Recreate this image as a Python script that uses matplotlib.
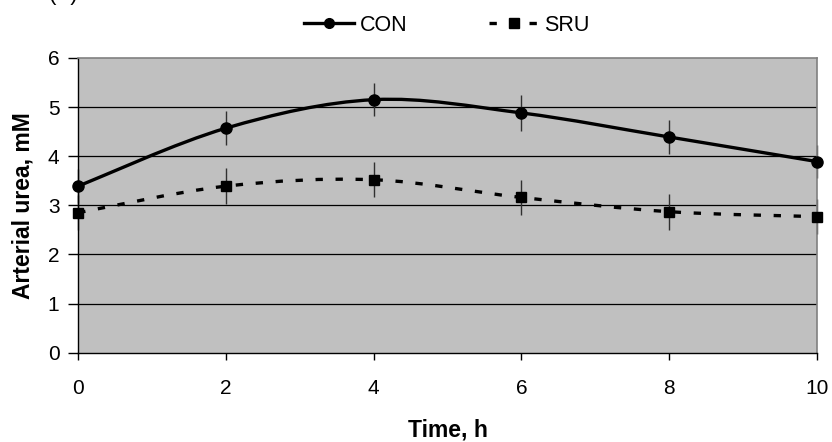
import numpy as np
import matplotlib
matplotlib.use("Agg")
import matplotlib.pyplot as plt
from matplotlib.path import Path
from matplotlib.patches import PathPatch
from matplotlib.lines import Line2D

plt.rcParams["font.family"] = ["Liberation Sans", "DejaVu Sans"]

time_h = [0, 2, 4, 6, 8, 10]
con_mean = [3.39, 4.57, 5.15, 4.88, 4.39, 3.89]
con_err = [0.35, 0.34, 0.34, 0.36, 0.35, 0.34]
sru_mean = [2.85, 3.39, 3.52, 3.16, 2.87, 2.77]
sru_err = [0.35, 0.36, 0.36, 0.36, 0.37, 0.36]
y_ticks = [0, 1, 2, 3, 4, 5, 6]
x_ticks = [0, 2, 4, 6, 8, 10]

DASH = (0, (2.2, 3.8))


def smooth_path(x, y):
    # Excel-like smoothed line: cubic Bezier segments with Catmull-Rom tangents
    pts = np.column_stack([x, y]).astype(float)
    n = len(pts)
    verts = [pts[0]]
    codes = [Path.MOVETO]
    for i in range(n - 1):
        p0 = pts[max(i - 1, 0)]
        p1 = pts[i]
        p2 = pts[i + 1]
        p3 = pts[min(i + 2, n - 1)]
        c1 = p1 + (p2 - p0) / 6.0
        c2 = p2 - (p3 - p1) / 6.0
        verts += [c1, c2, p2]
        codes += [Path.CURVE4] * 3
    return Path(verts, codes)


fig = plt.figure(figsize=(8.32, 4.42), dpi=100)
ax = fig.add_axes([0.094, 0.202, 0.888, 0.667])
ax.set_facecolor("#C0C0C0")

for yv in y_ticks[1:-1]:
    ax.axhline(yv, color="black", lw=0.9, zorder=1)

ax.add_patch(PathPatch(smooth_path(time_h, con_mean), fill=False,
                       edgecolor="black", lw=2.4, zorder=3, capstyle="butt"))
ax.add_patch(PathPatch(smooth_path(time_h, sru_mean), fill=False,
                       edgecolor="black", lw=2.4, zorder=3,
                       linestyle=DASH, capstyle="butt"))

ax.errorbar(time_h, con_mean, yerr=con_err, fmt="none", ecolor="#303030",
            elinewidth=1.0, capsize=0, zorder=2, clip_on=False)
ax.errorbar(time_h, sru_mean, yerr=sru_err, fmt="none", ecolor="#303030",
            elinewidth=1.0, capsize=0, zorder=2, clip_on=False)

ax.plot(time_h, con_mean, "o", color="black", ms=8, zorder=4, clip_on=False)
ax.plot(time_h, sru_mean, "s", color="black", ms=7.5, zorder=4, clip_on=False)

ax.set_xlim(0, 10)
ax.set_ylim(0, 6)
ax.set_xticks(x_ticks)
ax.set_yticks(y_ticks)
ax.tick_params(axis="x", direction="out", length=5, width=1,
               color="black", labelsize=15, pad=14)
ax.tick_params(axis="y", direction="out", length=7.5, width=1,
               color="black", labelsize=15, pad=6)

for s in ["left", "bottom"]:
    ax.spines[s].set_color("black")
    ax.spines[s].set_linewidth(1)
for s in ["top", "right"]:
    ax.spines[s].set_color("#808080")
    ax.spines[s].set_linewidth(1.2)

ax.set_xlabel("Time, h", fontsize=16.5, fontweight="bold")
ax.xaxis.label.set_va("center")
ax.xaxis.set_label_coords(0.5, -0.262)
ax.set_ylabel("Arterial urea, mM", fontsize=16.5, fontweight="bold")
ax.yaxis.label.set_va("center")
ax.yaxis.set_label_coords(-0.075, 0.5)

handles = [
    Line2D([], [], color="black", lw=2.4, marker="o", ms=7),
    Line2D([], [], color="black", lw=2.4, marker="s", ms=7,
           linestyle=DASH),
]
fig.legend(handles, ["CON", "SRU"], loc="center", bbox_to_anchor=(0.537, 0.943),
           ncol=2, frameon=False, fontsize=15.5, handlelength=2.3,
           handletextpad=0.25, columnspacing=3.8, borderpad=0)

fig.text(0.058, 1.012, "(A)", fontsize=16, ha="left", va="center")

fig.savefig("out.png", dpi=100)
